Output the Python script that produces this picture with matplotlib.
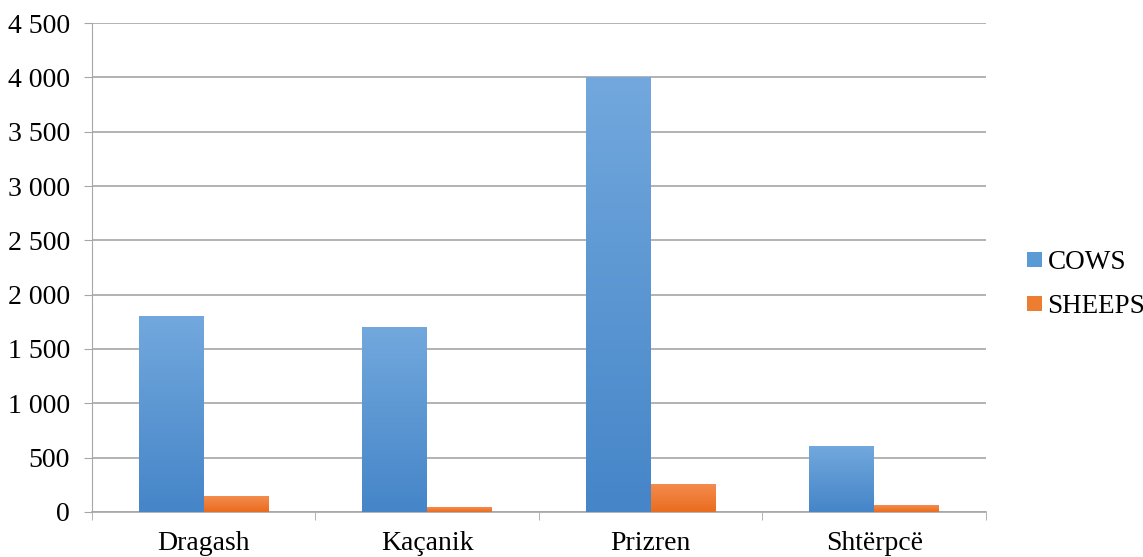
import numpy as np
import matplotlib.pyplot as plt
from matplotlib.colors import LinearSegmentedColormap
from matplotlib.ticker import FuncFormatter, FixedLocator

# Livestock counts per municipality
regions = ['Dragash', 'Kaçanik', 'Prizren', 'Shtërpcë']
cows = [1800, 1700, 4000, 600]
sheeps = [145, 45, 255, 60]

plt.rcParams['font.family'] = ['Liberation Serif', 'DejaVu Serif']

fig = plt.figure(figsize=(11.43, 5.57), dpi=100)
ax = fig.add_axes([0.0805, 0.0808, 0.7821, 0.8779])

x = np.arange(len(regions))
w = 0.29
bars_c = ax.bar(x - w / 2, cows, w, color='#5b9bd5', zorder=2, label='COWS')
bars_s = ax.bar(x + w / 2, sheeps, w, color='#ed7d31', zorder=2, label='SHEEPS')

# vertical gradient fill: lighter on top, darker at the base
grad_c = LinearSegmentedColormap.from_list('c', ['#4585c8', '#72a8dd'])
grad_s = LinearSegmentedColormap.from_list('s', ['#ea6c1e', '#f48c4e'])
g = np.linspace(0, 1, 256).reshape(-1, 1)
for bars, cmap in [(bars_c, grad_c), (bars_s, grad_s)]:
    for b in bars:
        x0, y0, bw, bh = b.get_x(), b.get_y(), b.get_width(), b.get_height()
        ax.imshow(g, cmap=cmap, origin='lower', aspect='auto',
                  extent=[x0, x0 + bw, y0, y0 + bh], zorder=3)

ax.set_xlim(-0.5, len(regions) - 0.5)
ax.set_ylim(0, 4500)
ax.set_yticks(np.arange(0, 4501, 500))
ax.yaxis.set_major_formatter(FuncFormatter(lambda v, p: f"{v:,.0f}".replace(',', ' ')))

ax.set_xticks(x)
ax.set_xticklabels(regions)
ax.xaxis.set_minor_locator(FixedLocator(np.arange(-0.5, len(regions), 1)))
ax.tick_params(axis='x', which='major', length=0, labelsize=20, pad=14)
ax.tick_params(axis='x', which='minor', length=6, color='#a6a6a6')
ax.tick_params(axis='y', length=6, color='#a6a6a6', labelsize=20, pad=10)

ax.grid(axis='y', color='#a6a6a6', linewidth=1.2, zorder=0)
for s in ['top', 'right']:
    ax.spines[s].set_visible(False)
ax.spines['left'].set_color('#a6a6a6')
ax.spines['bottom'].set_color('#a6a6a6')
ax.spines['bottom'].set_linewidth(1.2)

ax.legend(loc='center left', bbox_to_anchor=(1.046, 0.465), frameon=False,
          borderpad=0, borderaxespad=0, fontsize=19.5, handlelength=0.55,
          handleheight=0.5, handletextpad=0.2, labelspacing=0.7)

fig.savefig('out.png', dpi=100)
